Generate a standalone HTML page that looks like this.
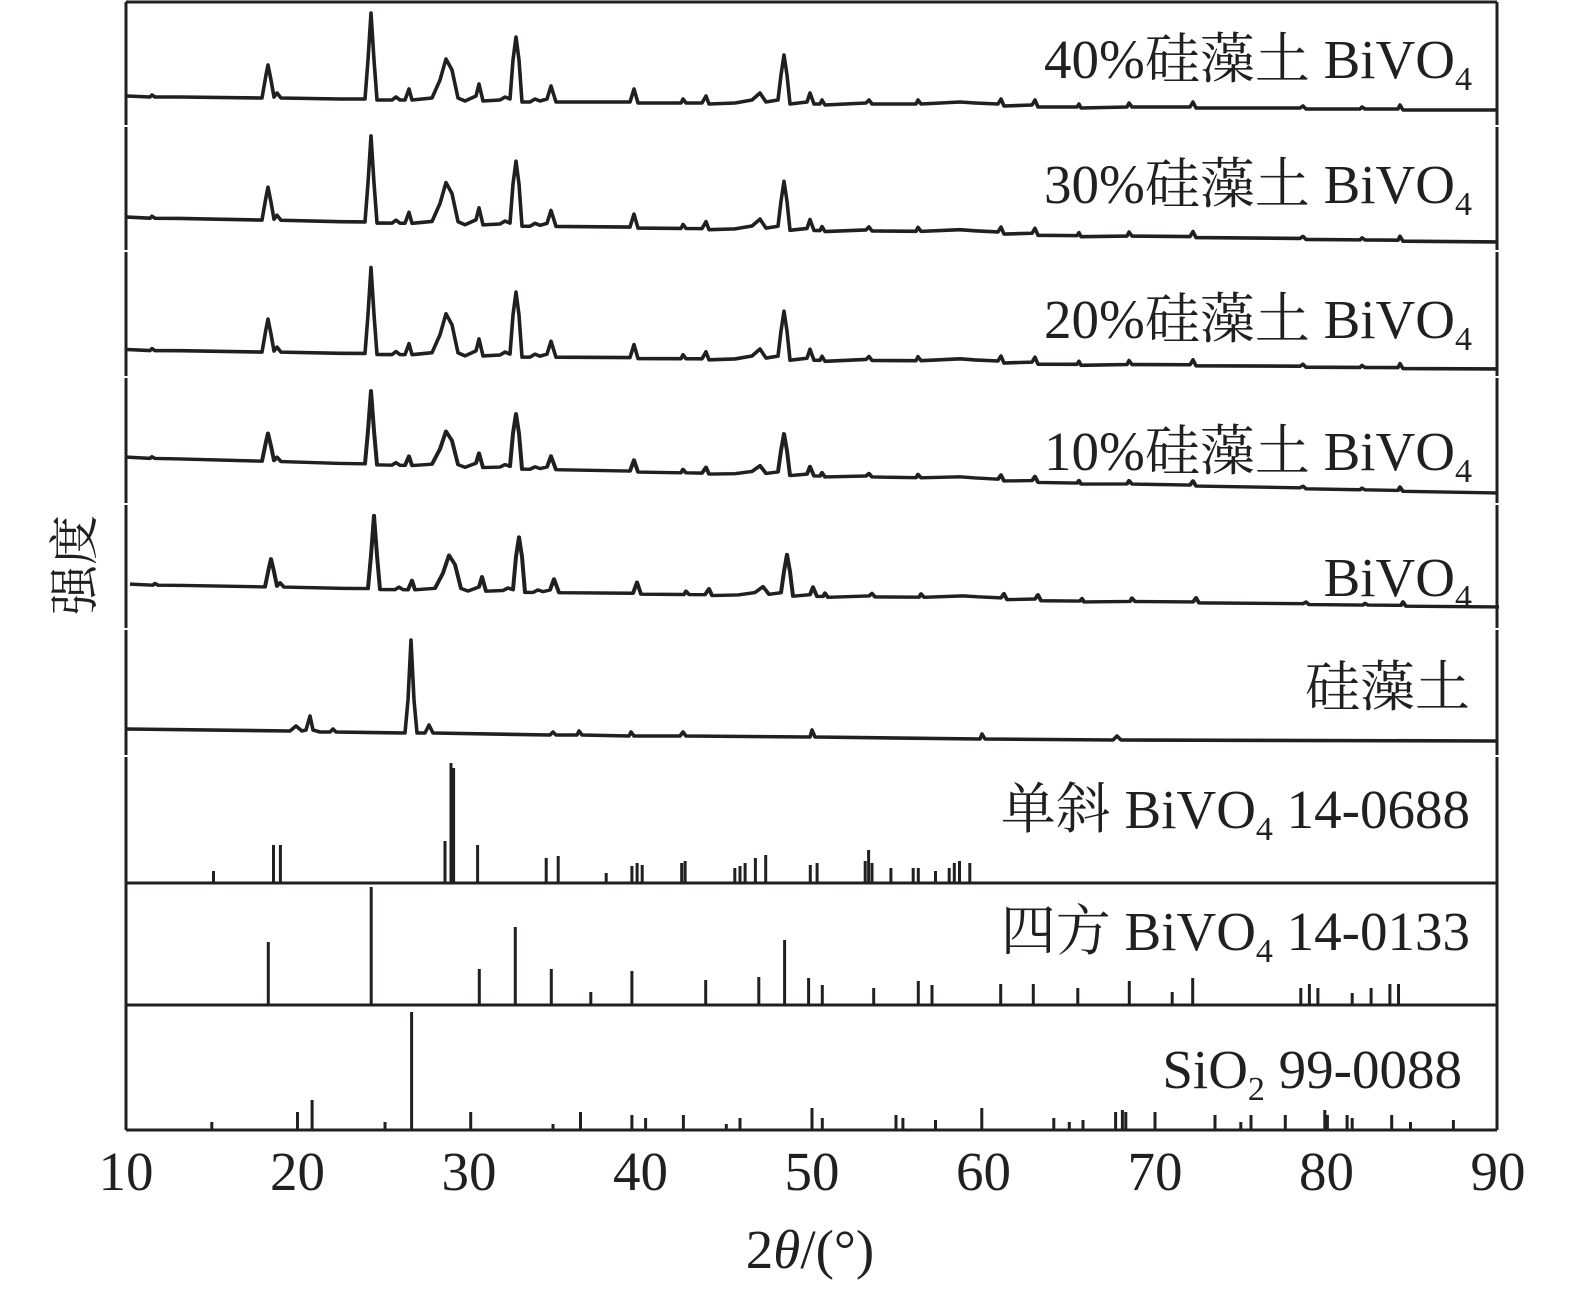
<!DOCTYPE html>
<html><head><meta charset="utf-8">
<style>
html,body{margin:0;padding:0;background:#fff;}
svg{display:block;}
text{font-family:"Liberation Serif","Noto Serif CJK SC",serif;fill:#231f20;}
</style></head>
<body>
<svg width="1575" height="1292" viewBox="0 0 1575 1292" xmlns="http://www.w3.org/2000/svg">
<g stroke="#231f20" stroke-width="3" fill="none">
<line x1="126" y1="2" x2="1497" y2="2"/>
<path d="M126 2V125M126 127V250M126 252V376M126 378V503M126 505V628M126 630V755M126 757V1130"/>
<path d="M1497 2V125M1497 127V250M1497 252V376M1497 378V503M1497 505V628M1497 630V755M1497 757V1130"/>
</g>
<defs>
<path id="tr" d="M127 96 L150 97 L152 95 L155 97 L180 97 L262 98 L266 75 L268 65 L271 80 L274 97 L277 93 L281 98 L340 99 L365 99 L368 60 L371 13 L374 60 L377 100 L392 100 L396 97 L400 100 L405 100 L409 89 L412 100 L432 98 L440 80 L446 59 L452 70 L458 98 L465 101 L476 96 L479 84 L483 101 L500 100 L505 97 L510 99 L513 60 L516 37 L519 60 L522 102 L530 102 L535 99 L540 101 L547 99 L551 86 L556 102 L630 102 L634 89 L638 103 L681 103 L683 99 L686 103 L702 103 L706 96 L709 104 L735 103 L752 100 L760 93 L766 102 L778 100 L781 75 L784 55 L787 75 L790 104 L807 102 L810 93 L814 104 L820 104 L822 100 L825 105 L866 103 L869 100 L872 104 L916 104 L918 100 L921 104 L960 102 L975 103 L998 104 L1001 99 L1004 106 L1032 105 L1035 100 L1038 107 L1077 107 L1079 104 L1081 108 L1127 107 L1129 103 L1132 107 L1190 107 L1193 102 L1196 108 L1300 108 L1303 106 L1306 109 L1360 109 L1362 107 L1365 109 L1398 109 L1400 105 L1403 110 L1496 110"/>
</defs>
<g stroke="#231f20" stroke-width="3.6" fill="none" stroke-linejoin="round">
<use href="#tr"/>
<use href="#tr" transform="matrix(1,0.008,0,1,0,120)"/>
<use href="#tr" transform="matrix(1,0.004,0,1,0,253)"/>
<use href="#tr" transform="matrix(1,0.0175,0,0.85,0,373.3)" stroke-width="4" vector-effect="non-scaling-stroke"/>
<use href="#tr" transform="matrix(1,0.008,0,0.85,3,501.5)" stroke-width="4"/>
<path d="M127 729 L290 731 L296 726 L302 731 L306 730 L310 716 L313 730 L320 732 L330 732 L333 729 L336 732 L405 733 L408 700 L411 640 L414 700 L417 733 L425 733 L429 725 L433 733 L550 735 L553 732 L556 735 L577 735 L579 731 L582 735 L629 736 L631 732 L634 736 L680 736 L683 732 L686 736 L810 737 L812 730 L815 737 L980 739 L982 734 L985 739 L1113 740 L1117 736 L1121 740 L1496 741"/>
</g>
<g stroke="#231f20" stroke-width="3" fill="none">
<line x1="126" y1="883" x2="1497" y2="883"/>
<line x1="126" y1="1005" x2="1497" y2="1005"/>
<line x1="126" y1="1130" x2="1497" y2="1130"/>
<path d="M213.5 883V871M273.5 883V845M280.4 883V845M445 883V841M451 883V763M453.6 883V768M477.6 883V845M546.2 883V858M558.2 883V856M606.2 883V873M631.9 883V866M637.1 883V863M642.2 883V865M681.7 883V863M685.1 883V861M734.8 883V868M740 883V866M745.1 883V863M755.4 883V858M765.7 883V855M810.3 883V865M817.1 883V863M865.2 883V861M868.6 883V850M872 883V863M890.9 883V868M913.2 883V868M918.3 883V868M935.5 883V871M949.2 883V868M954.3 883V863M959.5 883V861M969.8 883V863"/>
<path d="M268.3 1005V942M371.2 1005V887M479.3 1005V969M515.3 1005V927M551.3 1005V969M590.8 1005V992M631.9 1005V971M705.7 1005V980M758.8 1005V977M784.6 1005V940M808.6 1005V978M822.3 1005V985M873.7 1005V988M918.3 1005V981M932 1005V985M1000.7 1005V984M1033.3 1005V984M1077.8 1005V988M1129.3 1005V981M1172.2 1005V992M1192.7 1005V978M1300.8 1005V988M1309.4 1005V984M1317.9 1005V988M1352.2 1005V993M1371.1 1005V988M1389.9 1005V984M1398.5 1005V984"/>
<path d="M211.8 1130V1122M297.5 1130V1112M312.1 1130V1100M385 1130V1122M411.6 1130V1012M470.7 1130V1112M553 1130V1124M580.5 1130V1112M631.9 1130V1115M645.6 1130V1118M683.4 1130V1115M726.3 1130V1124M740 1130V1118M812 1130V1108M822.3 1130V1118M896 1130V1115M902.9 1130V1118M935.5 1130V1120M981.8 1130V1108M1053.8 1130V1118M1069.3 1130V1122M1083 1130V1120M1115.6 1130V1112M1122.4 1130V1110M1125.8 1130V1112M1155 1130V1112M1215 1130V1115M1240.8 1130V1122M1251 1130V1115M1285.3 1130V1115M1324.8 1130V1110M1327.4 1130V1115M1347.1 1130V1115M1352.2 1130V1118M1391.7 1130V1115M1410.5 1130V1122M1453.4 1130V1120"/>
</g>
<g font-size="55" text-anchor="middle">
<text x="126" y="1190">10</text><text x="297.5" y="1190">20</text><text x="469" y="1190">30</text><text x="640.5" y="1190">40</text><text x="812" y="1190">50</text><text x="983.5" y="1190">60</text><text x="1155" y="1190">70</text><text x="1326.5" y="1190">80</text><text x="1498" y="1190">90</text>
</g>
<g font-size="55" text-anchor="end">
<text x="1472" y="78">40%硅藻土 BiVO<tspan font-size="34" dy="12">4</tspan></text>
<text x="1472" y="203">30%硅藻土 BiVO<tspan font-size="34" dy="12">4</tspan></text>
<text x="1472" y="338">20%硅藻土 BiVO<tspan font-size="34" dy="12">4</tspan></text>
<text x="1472" y="470">10%硅藻土 BiVO<tspan font-size="34" dy="12">4</tspan></text>
<text x="1472" y="596">BiVO<tspan font-size="34" dy="12">4</tspan></text>
<text x="1470" y="706">硅藻土</text>
<text x="1470" y="828">单斜 BiVO<tspan font-size="34" dy="12">4</tspan><tspan dy="-12">  14-0688</tspan></text>
<text x="1470" y="950">四方 BiVO<tspan font-size="34" dy="12">4</tspan><tspan dy="-12"> 14-0133</tspan></text>
<text x="1462" y="1088">SiO<tspan font-size="34" dy="12">2</tspan><tspan dy="-12">  99-0088</tspan></text>
</g>
<text x="810" y="1268" font-size="55" text-anchor="middle">2<tspan font-style="italic">θ</tspan>/(°)</text>
<text x="0" y="0" font-size="50" text-anchor="middle" transform="translate(92,565) rotate(-90)">强度</text>
</svg>
</body></html>
